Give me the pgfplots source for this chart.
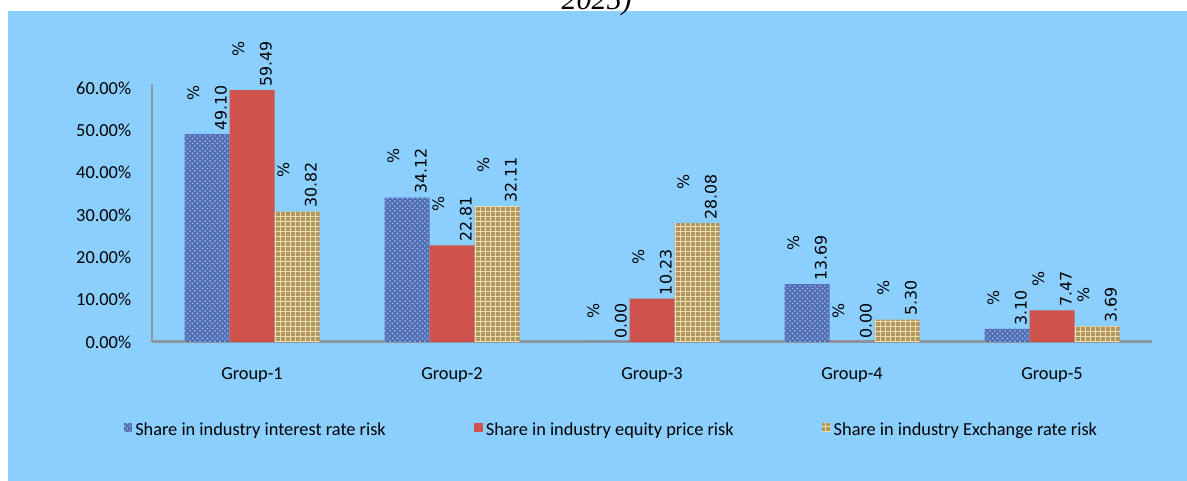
\documentclass[border=0pt]{standalone}
\usepackage{fontspec}
\setmainfont{Carlito}
\newfontfamily\dejavu{DejaVu Sans}
\newfontfamily\timesf{Liberation Serif}
\usepackage{pgfplots}
\pgfplotsset{compat=1.18}
\usetikzlibrary{patterns}

\definecolor{panel}{RGB}{139,207,255}
\definecolor{axgray}{RGB}{140,150,160}
\definecolor{bluebar}{RGB}{80,108,178}
\definecolor{bluetex}{RGB}{175,200,240}
\definecolor{redbar}{RGB}{208,82,76}
\definecolor{goldbar}{RGB}{176,150,96}
\definecolor{goldtex}{RGB}{240,222,170}

\begin{document}
\begin{tikzpicture}
\useasboundingbox (0,0) rectangle (712.2pt,288.6pt);
\fill[panel] (4.8pt,0pt) rectangle (712.2pt,282pt);
\node[font=\timesf\itshape\fontsize{18}{20}\selectfont, anchor=base] at (358pt,283pt) {2025)};

\begin{axis}[
    at={(91.2pt,83.4pt)}, anchor=origin,
    scale only axis,
    width=600pt, height=154.9pt,
    ybar=0pt, bar width=27pt,
    xmin=0.5, xmax=5.5,
    ymin=0, ymax=61,
    axis x line*=bottom, axis y line*=left,
    axis line style={axgray, line width=1.2pt, -},
    x axis line style={line width=1.8pt},
    major tick length=0pt,
    xtick={1,2,3,4,5},
    xticklabels={Group-1,Group-2,Group-3,Group-4,Group-5},
    xticklabel style={font=\fontsize{11}{13}\selectfont, yshift=-12pt},
    ytick={0,10,20,30,40,50,60},
    yticklabels={0.00\%,10.00\%,20.00\%,30.00\%,40.00\%,50.00\%,60.00\%},
    yticklabel style={font=\fontsize{11}{13}\selectfont, xshift=-9pt},
    /pgf/number format/assume math mode=true,
    nodes near coords={\%\\\pgfmathprintnumber[fixed,precision=2,zerofill]{\pgfplotspointmeta}},
    nodes near coords style={rotate=90, anchor=west, align=right,
        font=\dejavu\fontsize{9.5}{16.5}\selectfont, inner sep=3pt, xshift=-1pt},
    legend columns=3,
    legend style={at={(0.46,-0.341)}, anchor=center, draw=none, fill=none,
        font=\fontsize{11}{13}\selectfont,
        /tikz/every even column/.append style={column sep=51pt}},
    legend image code/.code={\fill[#1,draw=none] (0pt,-1pt) rectangle (5pt,4.5pt);},
]
\addplot[draw=none, fill=bluebar, postaction={pattern=crosshatch dots, pattern color=bluetex}]
    coordinates {(1,49.10) (2,34.12) (3,0.00) (4,13.69) (5,3.10)};
\addlegendentry{Share in industry interest rate risk}
\addplot[draw=none, fill=redbar]
    coordinates {(1,59.49) (2,22.81) (3,10.23) (4,0.00) (5,7.47)};
\addlegendentry{Share in industry equity price risk}
\addplot[draw=none, fill=goldbar, postaction={pattern=grid, pattern color=goldtex}]
    coordinates {(1,30.82) (2,32.11) (3,28.08) (4,5.30) (5,3.69)};
\addlegendentry{Share in industry Exchange rate risk}
\end{axis}
\end{tikzpicture}
\end{document}
